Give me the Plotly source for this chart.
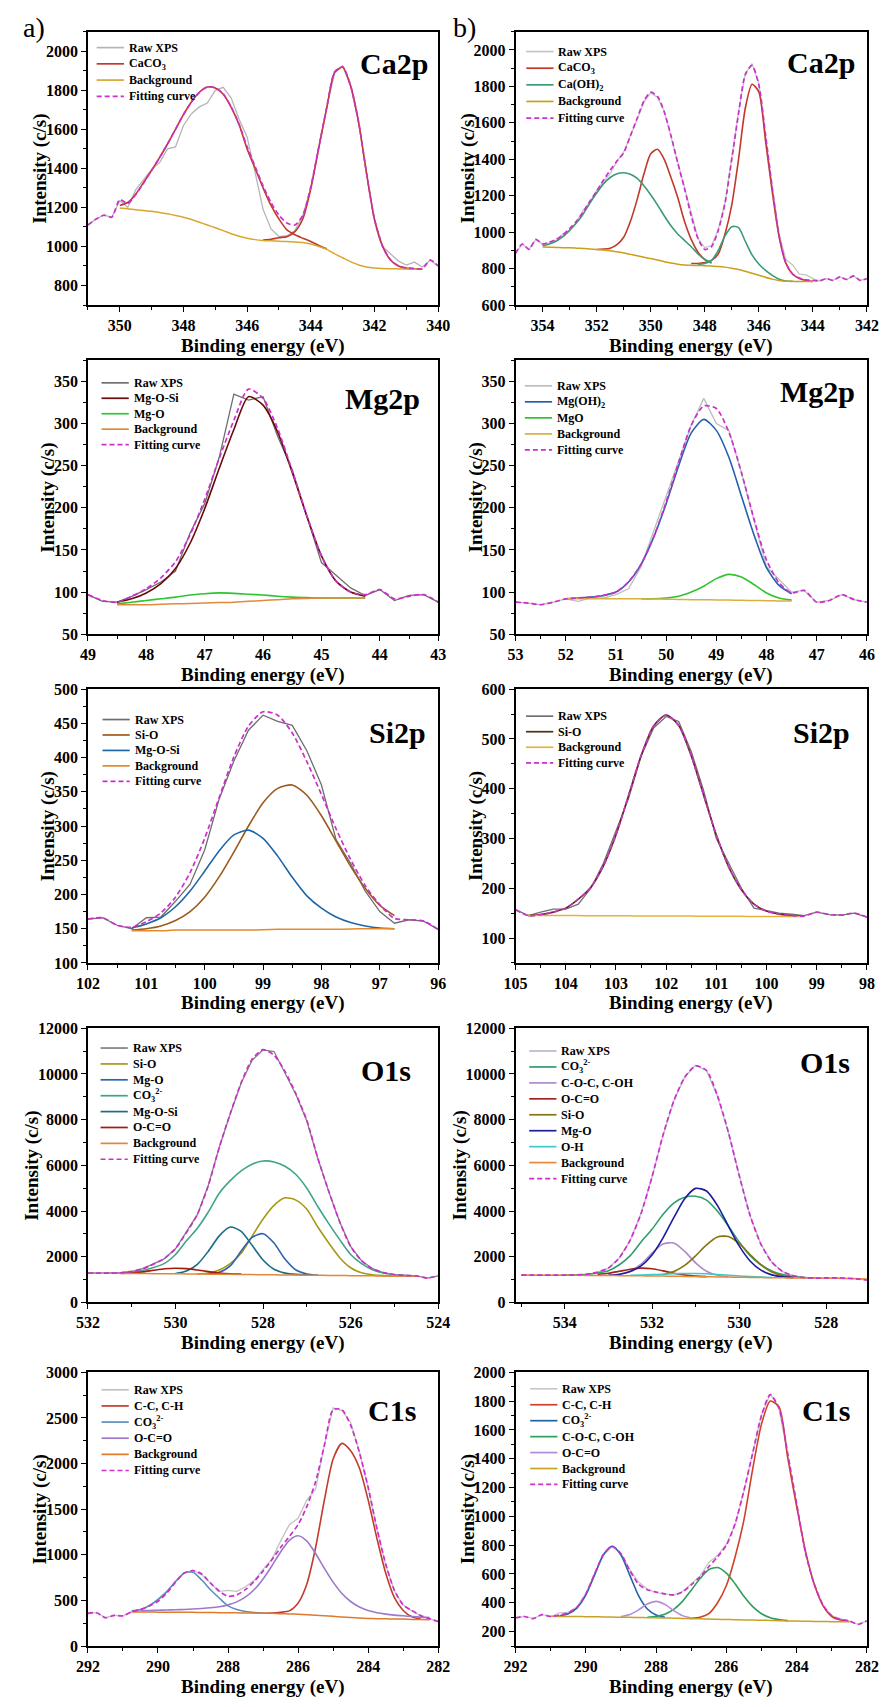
import numpy as np
import plotly.graph_objects as go

W, H = 893, 1707
SERIF = "Liberation Serif, Times New Roman, serif"
FIT_COLOR = "#cc2fcc"
FIT_DASH = "5px,3px"


def be_axis(start, n, step=0.25):
    """Binding-energy samples running downwards from `start` in fixed steps."""
    return np.round(start - step * np.arange(n), 2)


# ---------------- Ca 2p, sample a (351 -> 340 eV) ----------------
CA_A_RAW = [1110, 1140, 1160, 1150, 1235, 1200, 1290, 1340, 1395, 1430, 1500, 1510, 1620, 1680, 1715,
            1735, 1800, 1815, 1760, 1650, 1560, 1380, 1190, 1090, 1050, 1055, 1080, 1160, 1300, 1510,
            1715, 1890, 1925, 1820, 1635, 1370, 1140, 1000, 960, 925, 905, 920, 895, 930, 900]
CA_A_FIT = [1110, 1140, 1160, 1150, 1240, 1220, 1265, 1325, 1390, 1455, 1525, 1600, 1675, 1740, 1790,
            1817, 1813, 1782, 1715, 1625, 1510, 1410, 1310, 1225, 1160, 1120, 1110, 1160, 1307, 1510,
            1713, 1895, 1920, 1823, 1637, 1375, 1138, 1003, 932, 901, 890, 887, 885, 930, 900]
CA_A_CACO3_1 = [1210, 1225, 1268, 1328, 1390, 1455, 1525, 1600, 1675, 1740, 1790, 1817, 1812, 1780,
                1713, 1623, 1500, 1400, 1300, 1210, 1140, 1085, 1060, 1042, 1025, 1005, 988]      # 350.0 ->
CA_A_CACO3_2 = [1033, 1037, 1045, 1050, 1076, 1142, 1297, 1505, 1710, 1893, 1918, 1822, 1636, 1374,
                1137, 1002, 931, 900, 889, 886, 885]                                              # 345.5 ->
CA_A_BG = [1197, 1193, 1188, 1184, 1180, 1174, 1167, 1159, 1150, 1138, 1124, 1110, 1096, 1081, 1065,
           1052, 1042, 1035, 1031, 1029, 1027, 1025, 1023, 1020, 1013, 1000, 985, 962, 942, 922,
           905, 895, 890, 887, 886, 885, 885, 885, 885]                                           # 350.0 ->

# ---------------- Ca 2p, sample b (355 -> 342 eV) ----------------
CA_B_RAW = [884, 935, 905, 960, 935, 940, 955, 990, 1010, 1055, 1120, 1165, 1230, 1280, 1320,
            1390, 1440, 1525, 1620, 1715, 1765, 1740, 1665, 1525, 1385, 1235, 1095, 965, 915, 925,
            1015, 1160, 1410, 1660, 1870, 1925, 1815, 1525, 1245, 990, 850, 820, 770, 765, 745,
            732, 745, 735, 755, 740, 760, 735, 745]
CA_B_FIT = [884, 935, 905, 960, 935, 945, 960, 985, 1020, 1060, 1110, 1170, 1225, 1285, 1340,
            1390, 1435, 1530, 1625, 1720, 1768, 1745, 1660, 1530, 1380, 1240, 1090, 965, 905, 920,
            1010, 1160, 1400, 1650, 1865, 1915, 1810, 1535, 1240, 982, 832, 770, 748, 738, 735,
            732, 745, 735, 755, 740, 760, 735, 745]
CA_B_CACO3_1 = [905, 907, 912, 932, 972, 1060, 1180, 1320, 1430, 1455, 1400, 1300, 1190, 1060, 960,
                890, 850, 830]                                                                    # 352.0 ->
CA_B_CACO3_2 = [828, 828, 833, 845, 880, 990, 1150, 1400, 1680, 1812, 1770, 1500, 1220, 975, 830,
                770, 745, 735, 730]                                                               # 348.5 ->
CA_B_CAOH2_1 = [925, 935, 950, 975, 1010, 1050, 1100, 1160, 1215, 1265, 1300, 1320, 1326, 1318, 1295,
                1255, 1205, 1150, 1090, 1035, 990, 955, 920, 880, 850, 832]                       # 354.0 ->
CA_B_CAOH2_2 = [822, 828, 845, 900, 980, 1030, 1025, 950, 875, 825, 790, 763, 742, 732, 730]     # 348.25 ->
CA_B_BG = [918, 917, 916, 915, 914, 912, 910, 908, 905, 902, 898, 892, 886, 878, 870,
           862, 855, 847, 838, 830, 824, 820, 818, 817, 816, 814, 812, 808, 802, 795,
           785, 774, 763, 752, 742, 735, 731, 730, 729, 729, 729]                                 # 354.0 ->

# ---------------- Mg 2p, sample a (49 -> 43 eV) ----------------
MG_A_RAW = [97, 89, 88, 95, 103, 112, 125, 170, 205, 260, 335, 328, 332, 285, 245, 190, 135, 120,
            105, 96, 103, 90, 96, 97, 88]
MG_A_FIT = [97, 90, 88, 95, 104, 117, 136, 168, 210, 259, 304, 341, 330, 294, 244, 191, 143, 113,
            100, 97, 103, 92, 95, 97, 88]
MG_A_MGOSI = [88, 92, 99, 110, 128, 158, 199, 247, 293, 332, 322, 290, 242, 190, 143, 113, 100, 95]  # 48.5 ->
MG_A_MGO = [86, 88, 90, 92, 94, 96.5, 98, 99, 98.5, 97.5, 96.5, 95, 94, 93.5, 93, 93, 93, 93]        # 48.5 ->
MG_A_BG = [85, 85, 85, 85.5, 86, 86.5, 87, 87.5, 88, 89, 90, 91, 92, 92.5, 93, 93, 93, 93]           # 48.5 ->

# ---------------- Mg 2p, sample b (53 -> 46 eV) ----------------
MG_B_RAW = [88, 87, 85, 88, 92, 89, 93, 93, 97, 104, 130, 172, 215, 255, 298, 330, 300, 292, 242,
            185, 130, 115, 100, 102, 88, 90, 97, 91, 88]
MG_B_FIT = [88, 87, 85, 88, 92, 93, 94, 96, 100, 112, 133, 165, 207, 254, 298, 321, 318, 290, 242,
            187, 138, 111, 99, 102, 88, 90, 97, 91, 88]
MG_B_MGOH2 = [92, 93, 94, 96, 100, 112, 133, 165, 205, 250, 289, 305, 292, 260, 214, 168, 129, 108, 98]  # 52.0 ->
MG_B_MGO = [92, 92, 93, 95, 100, 107, 116, 121, 118, 109, 99, 93, 90.5]                                 # 50.5 ->
MG_B_BG = [92, 92, 92, 92, 92, 92, 92, 91.8, 91.5, 91.3, 91, 91, 90.7, 90.5, 90.2, 90, 89.8, 89.5, 89.3]  # 52.0 ->

# ---------------- Si 2p, sample a (102 -> 96 eV) ----------------
SI_A_RAW = [164, 166, 155, 150, 166, 167, 190, 215, 265, 340, 395, 440, 462, 453, 447, 410, 360, 280,
            245, 205, 175, 158, 163, 161, 149]
SI_A_FIT = [164, 166, 155, 152, 160, 173, 196, 232, 282, 342, 401, 446, 467, 462, 436, 394, 346, 296,
            251, 213, 185, 165, 163, 161, 149]
SI_A_SIO = [148, 150, 154, 162, 175, 196, 226, 262, 300, 334, 355, 360, 345, 315, 278, 241, 209, 184, 169]    # 101.25 ->
SI_A_MGOSI = [151, 157, 166, 182, 205, 234, 264, 287, 294, 282, 256, 225, 198, 180, 167, 159, 154, 151, 150]  # 101.25 ->
SI_A_BG = [147, 147, 147, 148, 148, 148, 148, 148, 148, 148.5, 149, 149, 149, 149, 149, 149.5, 150, 150, 150]  # 101.25 ->

# ---------------- Si 2p, sample b (105 -> 98 eV) ----------------
SI_B_RAW = [157, 145, 152, 158, 158, 168, 200, 250, 315, 380, 465, 522, 545, 535, 475, 395, 300, 250,
            200, 160, 155, 150, 148, 145, 152, 147, 146, 150, 142]
SI_B_FIT = [157, 145, 147, 152, 160, 178, 202, 245, 307, 386, 466, 526, 548, 527, 466, 386, 307, 242,
            197, 168, 154, 148, 145, 144, 152, 147, 146, 150, 142]
SI_B_SIO = [145, 147, 152, 160, 178, 202, 245, 307, 386, 466, 526, 548, 527, 466, 386, 307, 242, 197,
            168, 154, 148, 145, 144]                                                               # 104.75 ->
SI_B_BG = [145, 145, 145, 145, 145, 144.5, 144.5, 144.5, 144.5, 144, 144, 144, 144, 144, 143.5, 143.5,
           143.5, 143.5, 143, 143, 143, 143, 143]                                                  # 104.75 ->

# ---------------- O 1s, sample a (532 -> 524 eV) ----------------
O_A_RAW = [1290, 1285, 1285, 1300, 1350, 1480, 1690, 1920, 2350, 3080, 3840, 5130, 6800, 8250, 9600,
           10600, 11050, 10980, 10050, 9100, 7940, 6300, 4850, 3520, 2450, 1820, 1480, 1300, 1220,
           1175, 1160, 1070, 1165]
O_A_FIT = [1290, 1285, 1285, 1300, 1360, 1475, 1678, 1927, 2355, 3060, 3855, 5120, 6785, 8265, 9615,
           10640, 11065, 10825, 10110, 9130, 7960, 6315, 4865, 3530, 2445, 1830, 1475, 1305, 1222,
           1180, 1163, 1070, 1165]
O_A_SIO = [1250, 1290, 1420, 1700, 2150, 2900, 3650, 4250, 4580, 4480, 4080, 3300, 2600, 1960, 1520,
           1300, 1210, 1175, 1162, 1155, 1150]                                                     # 529.5 ->
O_A_MGO = [1240, 1320, 1600, 2250, 2850, 3010, 2600, 1900, 1420, 1250, 1195]                       # 529.25 ->
O_A_CO3 = [1285, 1300, 1340, 1400, 1530, 1710, 2100, 2700, 3250, 3960, 4780, 5330, 5760, 6050, 6190,
           6150, 5960, 5600, 5000, 4200, 3450, 2750, 2100, 1700, 1430, 1290, 1215, 1175, 1158]     # 531.5 ->
O_A_MGOSI = [1265, 1380, 1670, 2240, 2915, 3300, 3115, 2500, 1860, 1455, 1285, 1230, 1215]         # 530.0 ->
O_A_OCO = [1275, 1290, 1340, 1410, 1475, 1500, 1480, 1420, 1350, 1290, 1255, 1240]                 # 531.25 ->
O_A_BG = [1280, 1275, 1270, 1265, 1262, 1258, 1255, 1250, 1245, 1240, 1235, 1230, 1225, 1220, 1215,
          1210, 1205, 1200, 1195, 1190, 1185, 1180, 1175, 1170, 1165, 1160, 1155, 1150, 1145]      # 531.5 ->

# ---------------- O 1s, sample b (535 -> 527 eV) ----------------
O_B_RAW = [1198, 1197, 1196, 1195, 1195, 1205, 1230, 1320, 1500, 1950, 2720, 3910, 5480, 7300, 8830,
           9860, 10380, 10150, 9040, 7450, 5570, 3800, 2540, 1760, 1350, 1170, 1090, 1070, 1075,
           1080, 1060, 1020, 960]
O_B_FIT = [1198, 1197, 1196, 1195, 1195, 1205, 1230, 1331, 1508, 1954, 2733, 3900, 5494, 7309, 8818,
           9850, 10350, 10150, 9055, 7466, 5561, 3806, 2545, 1762, 1353, 1169, 1090, 1070, 1075,
           1080, 1060, 1020, 960]
O_B_CO3 = [1195, 1205, 1230, 1290, 1390, 1650, 2050, 2650, 3200, 3850, 4350, 4600, 4650, 4480, 4000,
           3350, 2650, 2050, 1650, 1380, 1220, 1130, 1090, 1070]                                   # 534.0 ->
O_B_COC = [1226, 1364, 1679, 2160, 2562, 2601, 2236, 1735, 1367, 1188, 1125]                       # 532.75 ->
O_B_OCO = [1222, 1277, 1364, 1456, 1503, 1475, 1384, 1281, 1201, 1154, 1132]                       # 533.25 ->
O_B_SIO = [1227, 1354, 1621, 2038, 2518, 2863, 2891, 2584, 2098, 1642, 1332, 1169, 1100]           # 531.75 ->
O_B_MGO = [1197, 1236, 1353, 1605, 2082, 2819, 3715, 4541, 4993, 4880, 4249, 3347, 2476, 1817, 1413,
           1208, 1120, 1085]                                                                       # 533.0 ->
O_B_OH = [1190, 1200, 1217, 1237, 1257, 1269, 1268, 1254, 1227, 1193, 1160, 1132, 1110, 1094]     # 532.5 ->
O_B_BG = [1198, 1197, 1195, 1193, 1190, 1188, 1185, 1182, 1178, 1174, 1170, 1165, 1160, 1154, 1148,
          1141, 1133, 1126, 1118, 1110, 1103, 1097, 1090, 1084, 1078, 1073, 1068, 1064, 1060, 1057,
          1050, 1040, 1025]                                                                        # 535.0 ->

# ---------------- C 1s, sample a (292 -> 282 eV) ----------------
C_A_RAW = [358, 365, 310, 335, 330, 375, 395, 450, 500, 590, 710, 800, 830, 780, 690, 600, 610, 600,
           650, 720, 840, 950, 1150, 1330, 1400, 1600, 1720, 2200, 2610, 2580, 2450, 2130, 1730,
           1280, 890, 600, 450, 385, 330, 300, 268]
C_A_FIT = [358, 365, 310, 335, 330, 375, 400, 440, 490, 580, 700, 800, 826, 790, 690, 600, 545, 560,
           620, 710, 820, 945, 1080, 1200, 1330, 1530, 1800, 2200, 2590, 2590, 2420, 2120, 1740,
           1290, 900, 610, 450, 390, 335, 300, 268]
C_A_CC = [360, 362, 370, 385, 470, 680, 1080, 1600, 2050, 2221, 2140, 1950, 1600, 1180, 800, 530,
          390, 320, 295]                                                                           # 287.0 ->
C_A_CO3 = [385, 400, 440, 511, 596, 705, 800, 809, 723, 617, 526, 440, 400, 378, 366, 361]         # 290.75 ->
C_A_OCO = [388, 390, 392, 395, 397, 401, 405, 411, 419, 431, 451, 484, 538, 619, 735, 877, 1031,
           1159, 1208, 1150, 1014, 851, 700, 576, 488, 427, 389, 365, 350, 339, 331, 323, 317, 311]  # 290.5 ->
C_A_BG = [372, 372, 372, 371, 371, 370, 370, 369, 368, 367, 366, 365, 364, 362, 361, 360, 358, 355,
          352, 348, 343, 338, 332, 325, 318, 312, 307, 303, 300, 298, 296, 295, 292, 290, 287]     # 290.75 ->

# ---------------- C 1s, sample b (292 -> 282 eV) ----------------
C_B_RAW = [296, 305, 290, 318, 305, 330, 335, 372, 465, 605, 730, 790, 745, 630, 545, 495, 470, 460,
           452, 478, 530, 585, 680, 730, 805, 945, 1175, 1440, 1705, 1850, 1745, 1425, 1085, 745,
           525, 380, 310, 290, 275, 250, 275]
C_B_FIT = [296, 305, 290, 318, 305, 315, 330, 370, 460, 600, 735, 792, 740, 625, 530, 490, 475, 462,
           455, 475, 525, 580, 650, 720, 800, 950, 1180, 1440, 1700, 1845, 1750, 1430, 1090, 750,
           530, 385, 310, 285, 275, 250, 275]
C_B_CC = [292, 300, 325, 400, 520, 720, 975, 1330, 1640, 1800, 1760, 1400, 1070, 760, 530, 380, 305,
          280, 270]                                                                                # 287.0 ->
C_B_CO3 = [310, 324, 365, 455, 594, 733, 793, 732, 592, 450, 357, 315, 300]                        # 290.75 ->
C_B_COC = [300, 306, 321, 354, 410, 487, 568, 630, 645, 606, 531, 445, 373, 324, 296, 283, 276]    # 288.25 ->
C_B_OCO = [305, 319, 351, 391, 410, 389, 346, 311, 295]                                            # 289.0 ->
C_B_BG = [306, 305.5, 305, 304.5, 304, 303, 302, 301, 300, 299, 298, 297, 296, 294.5, 293, 291.5,
          290, 288.5, 287, 285.5, 284, 282.5, 281, 280, 279, 277.5, 276, 274.5, 273, 272, 271, 270,
          269, 268.5, 268]                                                                         # 291.0 ->

CO3_LABEL = "CO<sub>3</sub><sup>2-</sup>"

PANELS = [
    dict(tag="Ca2p", row=0, col=0, xr=(351, 340), xd=2, xm=1, yr=(700, 2100), yd=200, ym=100,
         start=351.0, raw=CA_A_RAW, raw_color="#b5b5b5", fit=CA_A_FIT,
         comps=[("CaCO<sub>3</sub>", 350.0, CA_A_CACO3_1, "#c0392b", True),
                ("CaCO<sub>3</sub>", 345.5, CA_A_CACO3_2, "#c0392b", False)],
         bg=(350.0, CA_A_BG, "#d9a62e"), tag_pos=(8, 32), leg=(9, 16, 16.4)),
    dict(tag="Ca2p", row=0, col=1, xr=(355, 342), xd=2, xm=1, yr=(600, 2100), yd=200, ym=100,
         start=355.0, raw=CA_B_RAW, raw_color="#c4c4c4", fit=CA_B_FIT,
         comps=[("CaCO<sub>3</sub>", 352.0, CA_B_CACO3_1, "#c0392b", True),
                ("CaCO<sub>3</sub>", 348.5, CA_B_CACO3_2, "#c0392b", False),
                ("Ca(OH)<sub>2</sub>", 354.0, CA_B_CAOH2_1, "#3b9b76", True),
                ("Ca(OH)<sub>2</sub>", 348.25, CA_B_CAOH2_2, "#3b9b76", False)],
         bg=(354.0, CA_B_BG, "#c9a018"), tag_pos=(10, 31), leg=(11, 20, 16.8)),
    dict(tag="Mg2p", row=1, col=0, xr=(49, 43), xd=1, xm=0.5, yr=(50, 375), yd=50, ym=25,
         start=49.0, raw=MG_A_RAW, raw_color="#6e6e6e", fit=MG_A_FIT,
         comps=[("Mg-O-Si", 48.5, MG_A_MGOSI, "#6a0a0a", True),
                ("Mg-O", 48.5, MG_A_MGO, "#2fc431", True)],
         bg=(48.5, MG_A_BG, "#e08a3a"), tag_pos=(17, 38), leg=(14, 22.6, 15.6)),
    dict(tag="Mg2p", row=1, col=1, xr=(53, 46), xd=1, xm=0.5, yr=(50, 375), yd=50, ym=25,
         start=53.0, raw=MG_B_RAW, raw_color="#bdbdbd", fit=MG_B_FIT,
         comps=[("Mg(OH)<sub>2</sub>", 52.0, MG_B_MGOH2, "#2461ad", True),
                ("MgO", 50.5, MG_B_MGO, "#33c233", True)],
         bg=(52.0, MG_B_BG, "#d9b040"), tag_pos=(10, 31), leg=(9.5, 25.6, 16.2)),
    dict(tag="Si2p", row=2, col=0, xr=(102, 96), xd=1, xm=0.5, yr=(100, 500), yd=50, ym=25,
         start=102.0, raw=SI_A_RAW, raw_color="#6e6e6e", fit=SI_A_FIT,
         comps=[("Si-O", 101.25, SI_A_SIO, "#9c5a1c", True),
                ("Mg-O-Si", 101.25, SI_A_MGOSI, "#1f66a6", True)],
         bg=(101.25, SI_A_BG, "#e38b2c"), tag_pos=(11, 44), leg=(15, 30.7, 15.6)),
    dict(tag="Si2p", row=2, col=1, xr=(105, 98), xd=1, xm=0.5, yr=(50, 600), yd=100, ym=50,
         start=105.0, raw=SI_B_RAW, raw_color="#707070", fit=SI_B_FIT,
         comps=[("Si-O", 104.75, SI_B_SIO, "#5a2c10", True)],
         bg=(104.75, SI_B_BG, "#e2b33c"), tag_pos=(15, 44), leg=(10.7, 27.3, 15.7)),
    dict(tag="O1s", row=3, col=0, xr=(532, 524), xd=2, xm=1, yr=(0, 12000), yd=2000, ym=1000,
         start=532.0, raw=O_A_RAW, raw_color="#808080", fit=O_A_FIT,
         comps=[("Si-O", 529.5, O_A_SIO, "#a89914", True),
                ("Mg-O", 529.25, O_A_MGO, "#2c64ae", True),
                (CO3_LABEL, 531.5, O_A_CO3, "#3ea58a", True),
                ("Mg-O-Si", 530.0, O_A_MGOSI, "#1b6c84", True),
                ("O-C=O", 531.25, O_A_OCO, "#a5190f", True)],
         bg=(531.5, O_A_BG, "#e0883a"), tag_pos=(26, 43), leg=(13, 20, 16.05)),
    dict(tag="O1s", row=3, col=1, xr=(535.13, 527.07), xd=2, xm=1, yr=(0, 12000), yd=2000, ym=1000,
         start=535.0, raw=O_B_RAW, raw_color="#bfb6cc", fit=O_B_FIT,
         comps=[(CO3_LABEL, 534.0, O_B_CO3, "#2f9e6c", True),
                ("C-O-C, C-OH", 532.75, O_B_COC, "#a98bca", True),
                ("O-C=O", 533.25, O_B_OCO, "#a3211a", True),
                ("Si-O", 531.75, O_B_SIO, "#857512", True),
                ("Mg-O", 533.0, O_B_MGO, "#1c1c9e", True),
                ("O-H", 532.5, O_B_OH, "#3ccaca", True)],
         bg=(535.0, O_B_BG, "#e8893a"), tag_pos=(15, 35), leg=(14, 23, 16.1)),
    dict(tag="C1s", row=4, col=0, xr=(292, 282), xd=2, xm=1, yr=(0, 3000), yd=500, ym=250,
         start=292.0, raw=C_A_RAW, raw_color="#c2c2c2", fit=C_A_FIT,
         comps=[("C-C, C-H", 287.0, C_A_CC, "#c23b2c", True),
                (CO3_LABEL, 290.75, C_A_CO3, "#5b8fbf", True),
                ("O-C=O", 290.5, C_A_OCO, "#9d79c9", True)],
         bg=(290.75, C_A_BG, "#e07a2c"), tag_pos=(21, 39), leg=(14, 17.7, 16.3)),
    dict(tag="C1s", row=4, col=1, xr=(292, 282), xd=2, xm=1, yr=(100, 2000), yd=200, ym=100,
         start=292.0, raw=C_B_RAW, raw_color="#c8c8c8", fit=C_B_FIT,
         comps=[("C-C, C-H", 287.0, C_B_CC, "#d0412b", True),
                (CO3_LABEL, 290.75, C_B_CO3, "#1f63a8", True),
                ("C-O-C, C-OH", 288.25, C_B_COC, "#2f9e5c", True),
                ("O-C=O", 289.0, C_B_OCO, "#b58ad8", True)],
         bg=(291.0, C_B_BG, "#c8a126"), tag_pos=(15, 39), leg=(15, 16.7, 16.1)),
]

# plot-area boxes in pixels
COL_X = [(78.0, 438.0), (517.5, 878.5)]
ROW_Y = [(24.0, 300.0), (356.0, 632.5), (688.0, 964.5), (1030.5, 1307.5), (1378.0, 1654.5)]

fig = go.Figure()
annotations = []
shapes = []
layout = dict(width=W, height=H, margin=dict(l=0, r=0, t=0, b=0),
              paper_bgcolor="white", plot_bgcolor="white", showlegend=False)

tick_font = dict(family=SERIF, size=16, color="black", weight="bold")
title_font = dict(family=SERIF, size=19, color="black", weight="bold")
legend_font = dict(family=SERIF, size=12, color="black", weight="bold")


def curve(x0, values, color, width, axes, dash=None):
    x = be_axis(x0, len(values))
    line = dict(color=color, width=width, shape="spline", smoothing=0.7)
    if dash:
        line["dash"] = dash
    fig.add_trace(go.Scatter(x=x, y=values, mode="lines", line=line, hoverinfo="skip",
                             xaxis=axes[0], yaxis=axes[1]))


for i, p in enumerate(PANELS):
    xr_ = "x" if i == 0 else f"x{i + 1}"
    yr_ = "y" if i == 0 else f"y{i + 1}"
    left, right = COL_X[p["col"]]
    top, bottom = ROW_Y[p["row"]]
    pw, ph = right - left, bottom - top

    axis_common = dict(showline=True, linewidth=1.6, linecolor="black", mirror=True,
                       showgrid=False, zeroline=False, ticks="outside", ticklen=5, tickwidth=1.3,
                       tickcolor="black", tickfont=tick_font, autorange=False,
                       tickformat="d", exponentformat="none")
    layout["xaxis" if i == 0 else f"xaxis{i + 1}"] = dict(
        axis_common, domain=[left / W, right / W], anchor=yr_, range=list(p["xr"]),
        tick0=0, dtick=p["xd"],
        minor=dict(ticks="outside", ticklen=3, tickwidth=1.1, tickcolor="black", dtick=p["xm"]))
    layout["yaxis" if i == 0 else f"yaxis{i + 1}"] = dict(
        axis_common, domain=[1 - bottom / H, 1 - top / H], anchor=xr_, range=list(p["yr"]),
        tick0=0, dtick=p["yd"],
        minor=dict(ticks="outside", ticklen=3, tickwidth=1.1, tickcolor="black", dtick=p["ym"]))

    axes = (xr_, yr_)
    # raw spectrum, fitted components, background, envelope
    raw_x = be_axis(p["start"], len(p["raw"]))
    fig.add_trace(go.Scatter(x=raw_x, y=p["raw"], mode="lines",
                             line=dict(color=p["raw_color"], width=1.3), hoverinfo="skip",
                             xaxis=xr_, yaxis=yr_))
    for name, x0, vals, color, _ in p["comps"]:
        curve(x0, vals, color, 1.6, axes)
    bx0, bvals, bcolor = p["bg"]
    curve(bx0, bvals, bcolor, 1.5, axes)
    curve(p["start"], p["fit"], FIT_COLOR, 1.7, axes, dash=FIT_DASH)

    # in-panel legend
    items = [("Raw XPS", p["raw_color"], None)]
    items += [(name, color, None) for name, _, _, color, show in p["comps"] if show]
    items += [("Background", bcolor, None), ("Fitting curve", FIT_COLOR, FIT_DASH)]
    dx, dy, pitch = p["leg"]
    for k, (name, color, dash) in enumerate(items):
        yk = 1 - (dy + k * pitch) / ph
        ln = dict(color=color, width=1.7)
        if dash:
            ln["dash"] = dash
        shapes.append(dict(type="line", xref=f"{xr_} domain", yref=f"{yr_} domain",
                           x0=dx / pw, x1=(dx + 28) / pw, y0=yk, y1=yk, line=ln))
        annotations.append(dict(text=name, xref=f"{xr_} domain", yref=f"{yr_} domain",
                                x=(dx + 31) / pw, y=yk, xanchor="left", yanchor="middle",
                                showarrow=False, font=legend_font))

    # core-level tag
    tr, tt = p["tag_pos"]
    annotations.append(dict(text=p["tag"], xref=f"{xr_} domain", yref=f"{yr_} domain",
                            x=1 - tr / pw, y=1 - tt / ph, xanchor="right", yanchor="middle",
                            showarrow=False,
                            font=dict(family=SERIF, size=30, color="black", weight="bold")))

    # axis titles
    top_tick = int(p["yr"][1] // p["yd"] * p["yd"])
    ndig = len(str(top_tick))
    annotations.append(dict(text="Intensity (c/s)", xref="paper", yref="paper",
                            x=(left - (16 + 8.2 * ndig)) / W, y=1 - (top + bottom) / 2 / H,
                            textangle=-90, xanchor="center", yanchor="middle", showarrow=False,
                            font=title_font))
    annotations.append(dict(text="Binding energy (eV)", xref="paper", yref="paper",
                            x=(left + right) / 2 / W, y=1 - (bottom + 41) / H,
                            xanchor="center", yanchor="middle", showarrow=False, font=title_font))

for text, px in (("a)", 23), ("b)", 465)):
    annotations.append(dict(text=text, xref="paper", yref="paper", x=px / W, y=1 - 20 / H,
                            xanchor="center", yanchor="middle", showarrow=False,
                            font=dict(family=SERIF, size=28, color="black")))

layout["annotations"] = annotations
layout["shapes"] = shapes
fig.update_layout(**layout)
fig.write_html("out.html")
